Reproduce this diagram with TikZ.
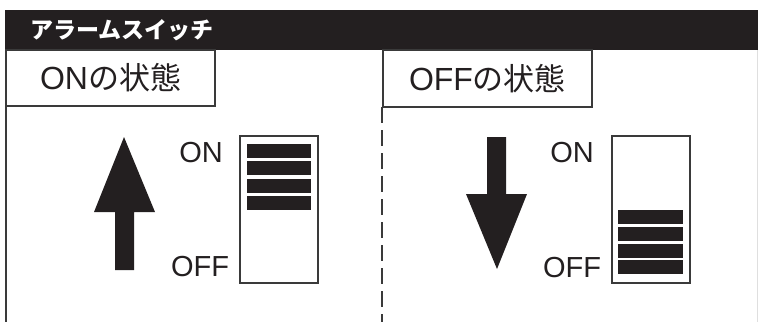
\documentclass[tikz,border=0pt]{standalone}
\usepackage{fontspec}
\setmainfont{Liberation Sans}
\newfontfamily\cjk{Noto Sans CJK JP}
\usepackage{tikz}
\usetikzlibrary{calc}
\definecolor{inkdark}{HTML}{231F20}
\definecolor{edgegray}{HTML}{3A3A3A}

\begin{document}
\begin{tikzpicture}[x=1pt,y=-1pt,
    boxline/.style={draw=edgegray, line width=1.6pt},
    barfill/.style={fill=inkdark},
    swlabel/.style={text=inkdark, font=\fontsize{29}{29}\selectfont, inner sep=0pt},
    titletext/.style={text=inkdark, font=\fontsize{32}{32}\selectfont, inner sep=0pt}]
          \useasboundingbox (0,0) rectangle (758,322);

          \fill [inkdark] (5,10) rectangle (758,50); % Draws the header bar
          \node [anchor=west, text=white, inner sep=0pt, font=\cjk\bfseries\fontsize{23}{23}\selectfont] (header) at (30,30) {アラームスイッチ};

          \draw [boxline] (6,50) rectangle (215,106) node [titletext, midway] (onstate) {ON{\cjk\fontsize{31}{31}\selectfont の状態}}; % Draws a rectangle
          \draw [boxline] (383,50) rectangle (592,107) node [titletext, midway] (offstate) {OFF{\cjk\fontsize{31}{31}\selectfont の状態}}; % Draws a rectangle

          \draw [boxline] (6,106) -- (6,322);
          \draw [boxline, dash pattern=on 16pt off 7pt] (382,107) -- (382,322);
          \draw [gray!25, line width=0.8pt] (757,50) -- (757,322);

          % on side
          \fill [inkdark] (124,137) -- (155,212) -- (134,212) -- (134,270) -- (115,270) -- (115,212) -- (94,212) -- cycle;
          \node [swlabel] (upon) at (201,153) {ON};
          \node [swlabel] (upoff) at (200,267) {OFF};
          \draw [boxline, line width=1.4pt] (240,136) rectangle (318,283); % Draws a rectangle
          \fill [barfill] (247,144.0) rectangle (311,158.0);
          \fill [barfill] (247,161.3) rectangle (311,175.3);
          \fill [barfill] (247,178.6) rectangle (311,192.6);
          \fill [barfill] (247,195.9) rectangle (311,209.9);

          % off side
          \fill [inkdark] (497,269) -- (527,194) -- (506,194) -- (506,137) -- (487,137) -- (487,194) -- (466,194) -- cycle;
          \node [swlabel] (downon) at (572,153) {ON};
          \node [swlabel] (downoff) at (572,268) {OFF};
          \draw [boxline, line width=1.4pt] (612,136) rectangle (690,283); % Draws a rectangle
          \fill [barfill] (618,210.0) rectangle (683,224.0);
          \fill [barfill] (618,226.8) rectangle (683,240.8);
          \fill [barfill] (618,243.6) rectangle (683,257.6);
          \fill [barfill] (618,260.4) rectangle (683,274.4);
        \end{tikzpicture}
\end{document}
